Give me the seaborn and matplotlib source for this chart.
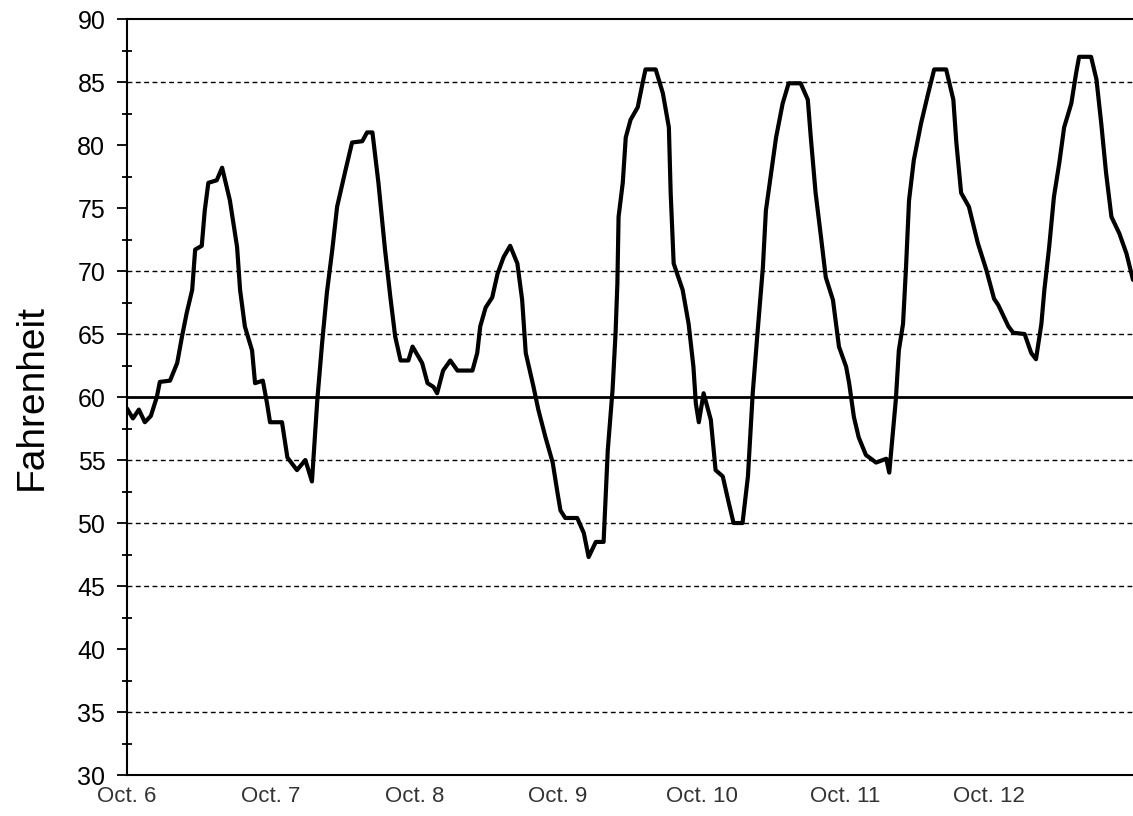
import matplotlib
matplotlib.use("Agg")
import matplotlib.pyplot as plt
import seaborn as sns
import pandas as pd

# Hours since midnight Oct. 6 and the temperature (°F)
hours = [0, 1, 2, 3, 4, 5, 5.5, 7.2, 8.4, 9.2, 10, 10.9, 11.4, 12.5, 13, 13.6, 15, 15.9,
         17.2, 18.4, 18.9, 19.7, 20.9, 21.4, 22.7, 23.4, 23.9, 25.9, 26.8, 28.4, 29.8, 30.9,
         31.8, 32.6, 33.4, 34.3, 35.1, 36.5, 37.6, 39.3, 40.1, 41, 42, 43.1, 44, 44.8, 45.7,
         47, 47.7, 49.3, 50.2, 51.2, 51.8, 52.8, 54, 55.2, 57.7, 58.5, 59, 59.9, 61, 61.9,
         62.9, 64, 65.2, 66, 66.6, 67.9, 68.7, 69.9, 71.1, 71.9, 72.4, 73.2, 75.2, 76.3,
         77.1, 78.3, 79.6, 80.3, 81.1, 81.6, 81.9, 82.1, 82.8, 83.3, 84.1, 85.3, 86.1, 86.6,
         88.3, 89.5, 90.5, 90.8, 91.3, 92.8, 93.8, 94.6, 95, 95.5, 96.3, 97.5, 98.3, 99.5,
         100.5, 101.3, 102.8, 103.7, 104.5, 105.3, 106.2, 106.7, 107.5, 108.4, 109.5, 110.5,
         112.5, 113.7, 114.2, 115, 115.9, 116.7, 117.9, 118.9, 120.1, 120.6, 121.4, 122.2,
         123.4, 125.1, 126.8, 127.3, 128.4, 128.9, 129.6, 130.1, 130.6, 131.4, 132.6, 133.8,
         134.8, 136.8, 138, 138.5, 139.3, 140.6, 142.1, 143.5, 144.8, 145.5, 147.2, 148,
         149.9, 151, 151.8, 152.7, 153.2, 154, 154.8, 155.7, 156.5, 157.7, 158.5, 159, 161,
         161.9, 162.7, 163.5, 164.4, 165.7, 166.9, 168]
temps = [59.1, 58.3, 59, 58, 58.5, 60, 61.2, 61.3, 62.7, 64.8, 66.7, 68.5, 71.7, 72, 74.8, 77, 77.2, 78.2,
         75.6, 71.9, 68.5, 65.6, 63.7, 61.1, 61.3, 59.5, 58, 58, 55.2, 54.2, 55, 53.3,
         59.8, 64.3, 68.3, 71.7, 75.1, 78, 80.2, 80.3, 81, 81, 77, 71.7, 67.9, 64.8, 62.9,
         62.9, 64, 62.7, 61.1, 60.8, 60.3, 62.1, 62.9, 62.1, 62.1, 63.5, 65.6, 67.1, 67.9, 69.8,
         71.1, 72, 70.6, 67.7, 63.5, 60.8, 59, 56.8, 54.8, 52.4, 51, 50.4, 50.4, 49.2,
         47.3, 48.5, 48.5, 55.8, 60.6, 65.1, 69, 74.3, 77, 80.6, 82, 83, 84.9, 86,
         86, 84.1, 81.4, 76.2, 70.6, 68.5, 65.8, 62.4, 59.5, 58, 60.3, 58.2, 54.2, 53.7,
         51.6, 50, 50, 53.7, 60.3, 65.1, 70.3, 74.8, 77.5, 80.6, 83.3, 84.9,
         84.9, 83.6, 80.6, 76.2, 72.7, 69.5, 67.7, 64, 62.4, 61.1, 58.4, 56.8,
         55.4, 54.8, 55.1, 54, 59.8, 63.7, 65.8, 70.3, 75.6, 78.8, 81.7, 84.1,
         86, 86, 83.6, 80.2, 76.2, 75.1, 72.2, 70.1, 67.8, 67.3, 65.6, 65.1,
         65, 63.5, 63, 65.8, 68.5, 71.9, 75.9, 78.6, 81.4, 83.3, 85.7, 87, 87,
         85.2, 81.7, 77.8, 74.3, 73, 71.4, 69.3]

day_ticks = [0, 24, 48, 72, 96, 120, 144]
day_labels = ["Oct. 6", "Oct. 7", "Oct. 8", "Oct. 9", "Oct. 10", "Oct. 11", "Oct. 12"]
y_ticks = [30, 35, 40, 45, 50, 55, 60, 65, 70, 75, 80, 85, 90]
grid_levels = [35, 45, 50, 55, 65, 70, 85]
reference_level = 60

sns.set_style("white")
plt.rcParams["font.family"] = ["Liberation Sans", "DejaVu Sans"]

df = pd.DataFrame({"hour": hours, "temp": temps})

fig = plt.figure(figsize=(11.33, 8.16), dpi=100)
ax = fig.add_axes([0.112, 0.0502, 0.888, 0.9265])

for g in grid_levels:
    ax.axhline(g, color="black", lw=1.0, ls=(0, (3.5, 2.5)), zorder=1)
ax.axhline(reference_level, color="black", lw=2.0, zorder=2)

sns.lineplot(data=df, x="hour", y="temp", color="black", lw=3.0, ax=ax, zorder=3)

ax.set_xlim(0, 168)
ax.set_ylim(30, 90)
ax.set_yticks(y_ticks)
ax.set_yticklabels([str(v) for v in y_ticks], fontsize=18, color="black")
ax.set_yticks([32.5, 37.5, 42.5, 47.5, 52.5, 57.5, 62.5, 67.5, 72.5, 77.5, 82.5, 87.5], minor=True)
ax.tick_params(axis="y", which="major", direction="out", length=7.5, width=1.3, color="black", pad=8, left=True)
ax.tick_params(axis="y", which="minor", direction="inout", length=7, width=1.3, color="black", left=True)
ax.set_xticks(day_ticks)
ax.set_xticklabels(day_labels, fontsize=16, color="#333333")
ax.tick_params(axis="x", which="both", length=0, pad=8, bottom=True)

ax.set_xlabel("")
ax.set_ylabel("Fahrenheit", fontsize=28, labelpad=20, color="black")

for side in ["left", "bottom", "top"]:
    ax.spines[side].set_visible(True)
    ax.spines[side].set_color("black")
    ax.spines[side].set_linewidth(1.5)
ax.spines["right"].set_visible(False)
ax.grid(False)

fig.savefig("out.png", dpi=100)
